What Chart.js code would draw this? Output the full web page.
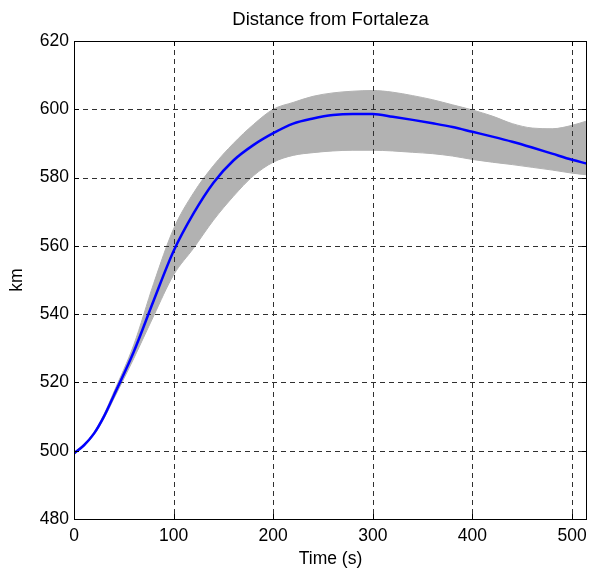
<!DOCTYPE html>
<html lang="en">
<head>
    <meta charset="UTF-8">
    <title>Distance from Fortaleza</title>
    <script src="https://cdn.jsdelivr.net/npm/chart.js"></script>
    <style>
        html, body { margin: 0; padding: 0; background: #fff; }
        #wrap { width: 589px; height: 570px; }
    </style>
</head>
<body>
    <div id="wrap"><canvas id="dist-chart"></canvas></div>

    <script>
        // values (time in s, distance in km)
        const time  = [0, 10, 20, 30, 40, 60, 80, 100, 120, 140, 160, 180, 200, 220, 240, 260, 280, 300, 320, 340, 360, 380, 400, 420, 440, 460, 480, 500, 515];
        const mean  = [499.2, 501.6, 505.0, 510.0, 516.2, 529, 544, 558.5, 569.5, 578.5, 585, 589.5, 593, 595.8, 597.3, 598.3, 598.6, 598.6, 597.8, 596.9, 595.9, 594.8, 593.4, 592.0, 590.5, 588.8, 587.0, 585.2, 584.1];
        const upper = [499.5, 501.9, 505.4, 510.6, 517.2, 531, 549, 565, 575.5, 583.5, 590, 595.5, 600, 602, 603.8, 604.8, 605.3, 605.5, 605, 604, 602.8, 601.3, 599.8, 598, 595.8, 594.5, 594.3, 595.3, 596.6];
        const lower = [499, 501.3, 504.6, 509.4, 515.2, 527, 539.5, 551.5, 559.3, 567.5, 574.5, 580.5, 584.5, 586.5, 587.3, 587.8, 588, 588, 587.8, 587.4, 587, 586.3, 585.3, 584.5, 583.8, 583, 582.2, 581.3, 580.8];
        const xTicks = [0, 100, 200, 300, 400, 500];
        const yTicks = [480, 500, 520, 540, 560, 580, 600, 620];

        const pts = arr => time.map((t, i) => ({ x: t, y: arr[i] }));
        const font = { family: "'Liberation Sans', Arial, sans-serif", size: 17.5 };

        // grid between band and blue line, box and inward ticks like matlab
        const matlabAxes = {
            id: 'matlabAxes',
            beforeDatasetDraw(chart, args) {
                if (args.index !== 2) return;
                const { ctx, chartArea: a, scales: { x, y } } = chart;
                ctx.save();
                ctx.strokeStyle = '#303030';
                ctx.lineWidth = 1;
                ctx.setLineDash([5, 4]);
                ctx.beginPath();
                xTicks.slice(1).forEach(v => {
                    const px = Math.round(x.getPixelForValue(v)) + 0.5;
                    ctx.moveTo(px, a.top); ctx.lineTo(px, a.bottom);
                });
                yTicks.slice(1, -1).forEach(v => {
                    const py = Math.round(y.getPixelForValue(v)) + 0.5;
                    ctx.moveTo(a.left, py); ctx.lineTo(a.right, py);
                });
                ctx.stroke();
                ctx.restore();
            },
            afterDraw(chart) {
                const { ctx, chartArea: a, scales: { x, y } } = chart;
                const len = 5;
                ctx.save();
                ctx.strokeStyle = '#000';
                ctx.lineWidth = 1;
                ctx.beginPath();
                xTicks.forEach(v => {
                    const px = Math.round(x.getPixelForValue(v)) + 0.5;
                    ctx.moveTo(px, a.bottom); ctx.lineTo(px, a.bottom - len);
                    ctx.moveTo(px, a.top); ctx.lineTo(px, a.top + len);
                });
                yTicks.forEach(v => {
                    const py = Math.round(y.getPixelForValue(v)) + 0.5;
                    ctx.moveTo(a.left, py); ctx.lineTo(a.left + len, py);
                    ctx.moveTo(a.right, py); ctx.lineTo(a.right - len, py);
                });
                ctx.stroke();
                ctx.strokeRect(a.left + 0.5, a.top + 0.5, a.right - a.left - 1, a.bottom - a.top);
                ctx.restore();
            }
        };

        new Chart(document.getElementById('dist-chart'), {
            type: 'line',
            data: {
                datasets: [
                    { data: pts(upper), borderColor: '#b2b2b2', backgroundColor: '#b2b2b2', borderWidth: 1, fill: '+1', order: 1 },
                    { data: pts(lower), borderColor: '#b2b2b2', borderWidth: 1, fill: false, order: 1 },
                    { data: pts(mean), borderColor: '#0000ff', borderWidth: 2.5, fill: false, order: 0 }
                ]
            },
            options: {
                responsive: true,
                maintainAspectRatio: false,
                animation: false,
                layout: { padding: { left: 0, right: 2, top: 0, bottom: 0 } },
                elements: { point: { radius: 0 }, line: { cubicInterpolationMode: 'monotone' } },
                plugins: {
                    legend: { display: false },
                    tooltip: { enabled: false },
                    title: { display: false }
                },
                scales: {
                    x: {
                        type: 'linear',
                        min: 0, max: 515,
                        afterBuildTicks: s => { s.ticks = xTicks.map(v => ({ value: v })); },
                        afterFit: s => { s.height = 51; s.paddingLeft = 0; s.paddingRight = 0; },
                        border: { display: false },
                        grid: { display: false, drawTicks: false },
                        ticks: { color: '#000', font, padding: 7, maxRotation: 0 },
                        title: { display: true, text: 'Time (s)', color: '#000', font, padding: { top: 0, bottom: 0 } }
                    },
                    // top axis only carries the chart title, centred over the plot box
                    top: {
                        type: 'linear',
                        position: 'top',
                        min: 0, max: 515,
                        afterFit: s => { s.height = 41; s.paddingLeft = 0; s.paddingRight = 0; },
                        border: { display: false },
                        grid: { display: false, drawTicks: false },
                        ticks: { display: false },
                        title: {
                            display: true,
                            text: 'Distance from Fortaleza',
                            color: '#000',
                            font: { ...font, size: 18.5 },
                            padding: { top: 9, bottom: 0 }
                        }
                    },
                    y: {
                        min: 480, max: 620,
                        afterBuildTicks: s => { s.ticks = yTicks.map(v => ({ value: v })); },
                        afterFit: s => { s.width = 74; s.paddingTop = 0; s.paddingBottom = 0; },
                        border: { display: false },
                        grid: { display: false, drawTicks: false },
                        ticks: { color: '#000', font, padding: 5 },
                        title: { display: true, text: 'km', color: '#000', font, padding: { top: 7, bottom: 0 } }
                    }
                }
            },
            plugins: [matlabAxes]
        });
    </script>
</body>
</html>
